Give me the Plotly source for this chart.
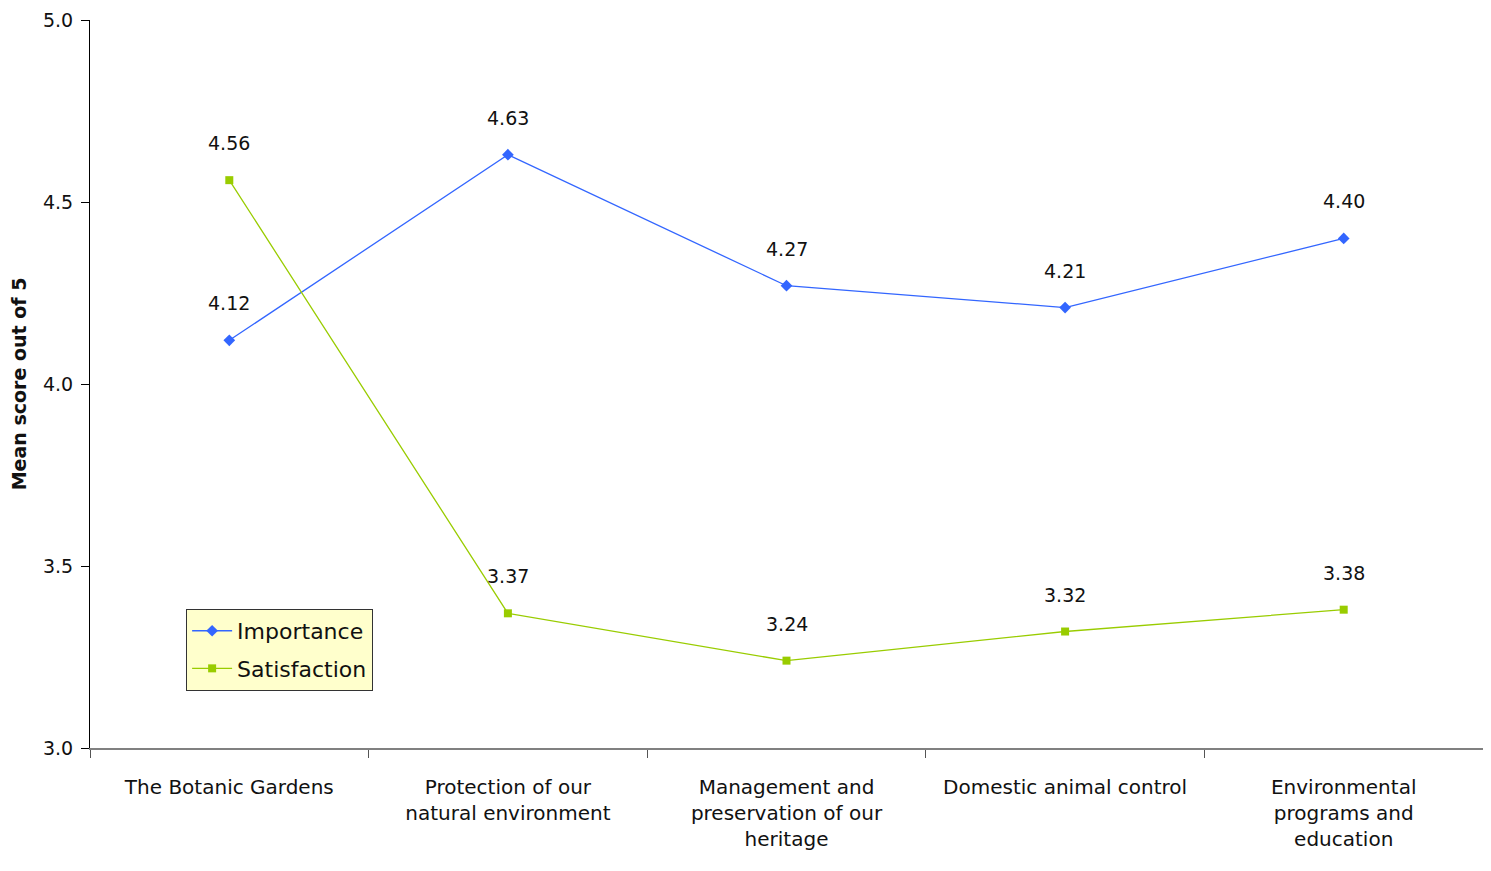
import plotly.graph_objects as go

categories = [
    "The Botanic Gardens",
    "Protection of our<br>natural environment",
    "Management and<br>preservation of our<br>heritage",
    "Domestic animal control",
    "Environmental<br>programs and<br>education",
]
importance = [4.12, 4.63, 4.27, 4.21, 4.40]
satisfaction = [4.56, 3.37, 3.24, 3.32, 3.38]

FONT = "DejaVu Sans"

fig = go.Figure()

fig.add_trace(go.Scatter(
    x=categories,
    y=importance,
    name="Importance",
    legendgroup="imp",
    mode="lines+markers",
    line=dict(color="#3366FF", width=1.3),
    marker=dict(symbol="diamond", size=9, color="#3366FF"),
))

fig.add_trace(go.Scatter(
    x=categories,
    y=satisfaction,
    name="Satisfaction",
    legendgroup="sat",
    mode="lines+markers",
    line=dict(color="#99CC00", width=1.3),
    marker=dict(symbol="square", size=8, color="#99CC00"),
))

# data labels sit well above each point
for series in (importance, satisfaction):
    for cat, val in zip(categories, series):
        fig.add_annotation(
            x=cat, y=val, text=f"{val:.2f}",
            showarrow=False, yshift=37,
            font=dict(family=FONT, size=19, color="#111111"),
        )

# page body adds an 8px margin, so the figure is a little smaller than the window
fig.update_layout(
    width=1475,
    height=855,
    margin=dict(l=82, r=0, t=12, b=115),
    plot_bgcolor="white",
    paper_bgcolor="white",
    font=dict(family=FONT, size=19, color="#111111"),
    legend=dict(
        x=0.069, y=0.191, xanchor="left", yanchor="top",
        bgcolor="#FFFFCC", bordercolor="#333333", borderwidth=1,
        font=dict(family=FONT, size=22),
        traceorder="grouped", tracegroupgap=6,
        itemwidth=40,
    ),
)

fig.update_xaxes(
    type="category",
    range=[-0.5, 4.5],
    automargin=False,
    showline=True, linecolor="#808080", linewidth=1.5,
    ticks="outside", tickson="boundaries", ticklen=8, tickcolor="#555555",
    ticklabelstandoff=20,
    showgrid=False,
    tickfont=dict(family=FONT, size=20),
)

fig.update_yaxes(
    range=[3.0, 5.0],
    dtick=0.5,
    tickformat=".1f",
    automargin=False,
    showline=True, linecolor="#000000", linewidth=1,
    ticks="outside", ticklen=8, tickcolor="#000000",
    ticklabelstandoff=4,
    showgrid=False,
    zeroline=False,
    tickfont=dict(family=FONT, size=19),
    title=dict(text="<b>Mean score out of 5</b>", font=dict(family=FONT, size=19), standoff=16),
)

fig.write_html("out.html")
